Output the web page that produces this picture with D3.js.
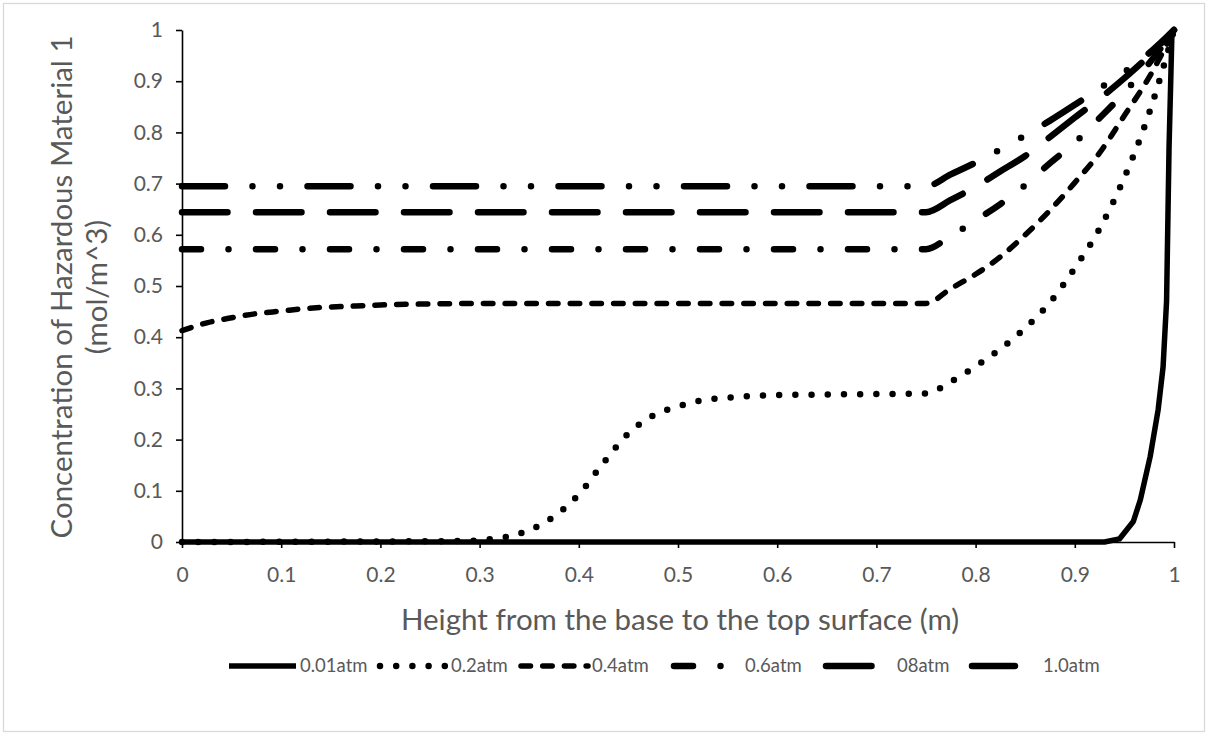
<!DOCTYPE html>
<html><head><meta charset="utf-8">
<script src="https://cdn.jsdelivr.net/npm/d3@7"></script>
<style>body{margin:0;background:#fff}svg{display:block}</style>
</head><body>
<svg id="c" width="1208" height="735"></svg>
<script>
// ---------- data ----------
const seriesNames = ["0.01atm", "0.2atm", "0.4atm", "0.6atm", "08atm", "1.0atm"];
const xTicks = [0, 0.1, 0.2, 0.3, 0.4, 0.5, 0.6, 0.7, 0.8, 0.9, 1];
const yTicks = [0, 0.1, 0.2, 0.3, 0.4, 0.5, 0.6, 0.7, 0.8, 0.9, 1];
const tickLabels = ["0", "0.1", "0.2", "0.3", "0.4", "0.5", "0.6", "0.7", "0.8", "0.9", "1"];

const h001 = [0, 0.93, 0.945, 0.959, 0.966, 0.976, 0.984, 0.989, 0.9925, 0.995, 0.998];
const c001 = [0, 0, 0.006, 0.04, 0.082, 0.167, 0.258, 0.342, 0.47, 0.77, 1.0];

const h02 = [0, 0.29, 0.3, 0.325, 0.35, 0.375, 0.4, 0.425, 0.45, 0.475, 0.5, 0.525, 0.55, 0.575, 0.6, 0.65, 0.7, 0.75, 0.775, 0.8, 0.825, 0.85, 0.875, 0.9, 0.925, 0.95, 0.975, 1.0];
const c02 = [0, 0.002, 0.004, 0.009, 0.023, 0.05, 0.093, 0.155, 0.212, 0.247, 0.265, 0.277, 0.282, 0.285, 0.287, 0.288, 0.289, 0.29, 0.313, 0.343, 0.377, 0.418, 0.468, 0.535, 0.612, 0.712, 0.838, 1.0];

const h04 = [0, 0.025, 0.05, 0.075, 0.1, 0.125, 0.15, 0.175, 0.2, 0.25, 0.3, 0.4, 0.5, 0.6, 0.7, 0.75, 0.775, 0.8, 0.825, 0.85, 0.875, 0.9, 0.925, 0.95, 0.975, 1.0];
const c04 = [0.413, 0.428, 0.438, 0.446, 0.451, 0.456, 0.459, 0.461, 0.463, 0.465, 0.466, 0.466, 0.466, 0.466, 0.466, 0.466, 0.495, 0.523, 0.557, 0.600, 0.648, 0.702, 0.760, 0.833, 0.908, 1.0];

const hUpper = [0, 0.25, 0.5, 0.75, 0.775, 0.8, 0.825, 0.85, 0.875, 0.9, 0.925, 0.95, 0.975, 1.0];
const c06 = [0.572, 0.572, 0.572, 0.572, 0.598, 0.628, 0.660, 0.697, 0.740, 0.780, 0.828, 0.878, 0.935, 1.0];
const c08 = [0.644, 0.644, 0.644, 0.644, 0.668, 0.694, 0.724, 0.754, 0.791, 0.829, 0.866, 0.906, 0.950, 1.0];
const c10 = [0.695, 0.695, 0.695, 0.695, 0.718, 0.741, 0.767, 0.794, 0.823, 0.854, 0.886, 0.918, 0.955, 1.0];

// ---------- styles ----------
const styles = [
  {w: 5.5, dash: null, curve: d3.curveLinear},
  {w: 6.5, dash: "0,16.2", curve: d3.curveMonotoneX},
  {w: 5.5, dash: "9.5,12.2", curve: d3.curveMonotoneX},
  {w: 6.5, dash: "19,27.5,0,27.5", curve: d3.curveMonotoneX},
  {w: 6.5, dash: "45.5,28.5", curve: d3.curveMonotoneX},
  {w: 6.5, dash: "43,27.5,0,27.5,0,27.5", curve: d3.curveMonotoneX}
];
const seriesX = [h001, h02, h04, hUpper, hUpper, hUpper];
const seriesY = [c001, c02, c04, c06, c08, c10];
// legend text start positions (layout)
const legendTextX = [300, 451, 592, 745, 897, 1043];

const FONT = "Lato, 'Open Sans', sans-serif";
const TXT = "#595959";

const svg = d3.select("#c");
svg.append("rect").attr("x", 3.5).attr("y", 3.5).attr("width", 1201).attr("height", 728)
  .attr("fill", "#fff").attr("stroke", "#d9d9d9").attr("stroke-width", 1.3);

const x = d3.scaleLinear().domain([0, 1]).range([182, 1174]);
const y = d3.scaleLinear().domain([0, 1]).range([542, 30]);

const fmt = v => tickLabels[Math.round(v * 10)];

const gx = svg.append("g").attr("transform", "translate(0,542)")
  .call(d3.axisBottom(x).tickValues(xTicks).tickFormat(fmt).tickSize(6).tickPadding(19).tickSizeOuter(0));
const gy = svg.append("g").attr("transform", "translate(182,0)")
  .call(d3.axisLeft(y).tickValues(yTicks).tickFormat(fmt).tickSize(6).tickPadding(13).tickSizeOuter(0));
[gx, gy].forEach(g => {
  g.select(".domain").attr("stroke", "#000").attr("stroke-width", 1.6);
  g.selectAll(".tick line").attr("stroke", "#000").attr("stroke-width", 1.6);
  g.selectAll(".tick text").attr("fill", TXT).attr("font-family", FONT).attr("font-size", 21);
});

// axis titles
svg.append("text").attr("x", 680).attr("y", 630).attr("text-anchor", "middle")
  .attr("font-family", FONT).attr("font-size", 29.5).attr("fill", TXT)
  .text("Height from the base to the top surface (m)");
const yt = svg.append("text").attr("transform", "translate(72,287) rotate(-90)")
  .attr("text-anchor", "middle").attr("font-family", FONT).attr("font-size", 29.5).attr("fill", TXT);
yt.append("tspan").attr("x", 0).attr("dy", 0).text("Concentration of Hazardous Material 1");
yt.append("tspan").attr("x", 0).attr("dy", 35).text("(mol/m^3)");

// series
const line = d3.line().x(d => x(d[0])).y(d => y(d[1]));
seriesNames.forEach((name, i) => {
  const pts = seriesX[i].map((h, k) => [h, seriesY[i][k]]);
  const s = styles[i];
  svg.append("path").datum(pts)
    .attr("d", line.curve(s.curve))
    .attr("fill", "none").attr("stroke", "#000").attr("stroke-width", s.w)
    .attr("stroke-linecap", s.dash ? "round" : "butt").attr("stroke-linejoin", "round")
    .attr("stroke-dasharray", s.dash);
});

// legend
const legY = 666;
seriesNames.forEach((name, i) => {
  const s = styles[i];
  const tx = legendTextX[i];
  svg.append("line").attr("x1", tx - 71).attr("x2", tx - 4).attr("y1", legY).attr("y2", legY)
    .attr("stroke", "#000").attr("stroke-width", s.w)
    .attr("stroke-linecap", s.dash ? "round" : "butt").attr("stroke-dasharray", s.dash);
  svg.append("text").attr("x", tx).attr("y", legY).attr("dy", "0.35em")
    .attr("font-family", FONT).attr("font-size", 18.5).attr("fill", TXT).text(name);
});
</script>
</body></html>
